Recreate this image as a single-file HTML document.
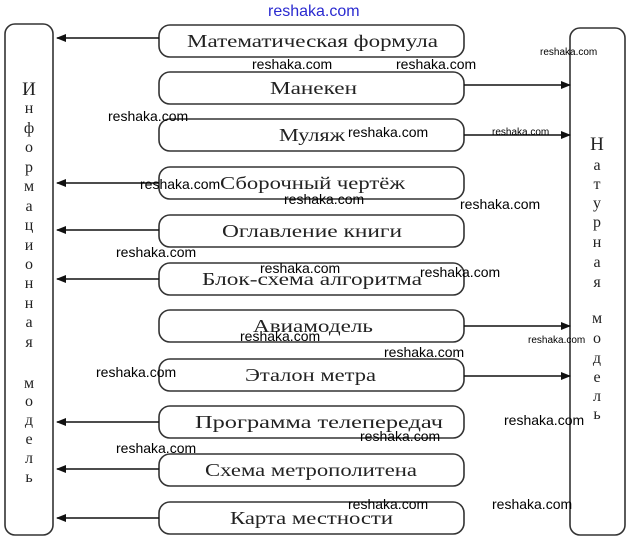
<!DOCTYPE html>
<html><head><meta charset="utf-8"><style>
html,body{margin:0;padding:0;background:#fff;}
svg{display:block;}
text{font-family:"Liberation Serif","DejaVu Serif",serif;fill:#222;}
.w{font-family:"Liberation Sans",sans-serif;fill:#000;font-size:14px;}
</style></head><body>
<svg width="628" height="539" viewBox="0 0 628 539" xmlns="http://www.w3.org/2000/svg">
<defs><marker id="a" markerWidth="10" markerHeight="8" refX="9" refY="4" orient="auto" markerUnits="userSpaceOnUse"><path d="M0,0 L10,4 L0,8 z" fill="#111"/></marker></defs>
<g fill="none" stroke="#333" stroke-width="1.6">
<rect x="5" y="24" width="48" height="511" rx="10"/>
<rect x="570" y="28" width="55" height="507" rx="10"/>
<rect x="159" y="25" width="305" height="32" rx="11"/>
<rect x="159" y="72" width="305" height="32" rx="11"/>
<rect x="159" y="119" width="305" height="32" rx="11"/>
<rect x="159" y="167" width="305" height="32" rx="11"/>
<rect x="159" y="215" width="305" height="32" rx="11"/>
<rect x="159" y="263" width="305" height="32" rx="11"/>
<rect x="159" y="310" width="305" height="32" rx="11"/>
<rect x="159" y="359" width="305" height="32" rx="11"/>
<rect x="159" y="406" width="305" height="32" rx="11"/>
<rect x="159" y="454" width="305" height="32" rx="11"/>
<rect x="159" y="502" width="305" height="32" rx="11"/>
</g>
<g stroke="#111" stroke-width="1.5" marker-end="url(#a)">
<line x1="159" y1="38" x2="57" y2="38"/>
<line x1="464" y1="85" x2="570" y2="85"/>
<line x1="464" y1="135" x2="570" y2="135"/>
<line x1="159" y1="183" x2="57" y2="183"/>
<line x1="159" y1="230" x2="57" y2="230"/>
<line x1="159" y1="279" x2="57" y2="279"/>
<line x1="464" y1="326" x2="570" y2="326"/>
<line x1="464" y1="376" x2="570" y2="376"/>
<line x1="159" y1="422" x2="57" y2="422"/>
<line x1="159" y1="469" x2="57" y2="469"/>
<line x1="159" y1="518" x2="57" y2="518"/>
</g>
<g font-size="18">
<text x="187" y="47" textLength="251" lengthAdjust="spacingAndGlyphs">Математическая формула</text>
<text x="270" y="94" textLength="87" lengthAdjust="spacingAndGlyphs">Манекен</text>
<text x="279" y="141" textLength="66" lengthAdjust="spacingAndGlyphs">Муляж</text>
<text x="220" y="189" textLength="185" lengthAdjust="spacingAndGlyphs">Сборочный чертёж</text>
<text x="222" y="237" textLength="180" lengthAdjust="spacingAndGlyphs">Оглавление книги</text>
<text x="202" y="285" textLength="220" lengthAdjust="spacingAndGlyphs">Блок-схема алгоритма</text>
<text x="253" y="332" textLength="120" lengthAdjust="spacingAndGlyphs">Авиамодель</text>
<text x="245" y="381" textLength="131" lengthAdjust="spacingAndGlyphs">Эталон метра</text>
<text x="195" y="428" textLength="248" lengthAdjust="spacingAndGlyphs">Программа телепередач</text>
<text x="205" y="476" textLength="212" lengthAdjust="spacingAndGlyphs">Схема метрополитена</text>
<text x="230" y="524" textLength="163" lengthAdjust="spacingAndGlyphs">Карта местности</text>
</g>
<g font-size="16" text-anchor="middle">
<text x="29" y="95" font-size="19">И</text>
<text x="29" y="113">н</text><text x="29" y="133">ф</text><text x="29" y="152">о</text>
<text x="29" y="172">р</text><text x="29" y="191">м</text><text x="29" y="211">а</text>
<text x="29" y="230">ц</text><text x="29" y="250">и</text><text x="29" y="269">о</text>
<text x="29" y="288">н</text><text x="29" y="308">н</text><text x="29" y="327">а</text>
<text x="29" y="347">я</text>
<text x="29" y="388">м</text><text x="29" y="406">о</text><text x="29" y="425">д</text>
<text x="29" y="444">е</text><text x="29" y="463">л</text><text x="29" y="482">ь</text>
</g>
<g font-size="16" text-anchor="middle">
<text x="597" y="150" font-size="19">Н</text>
<text x="597" y="170">а</text><text x="597" y="189">т</text><text x="597" y="208">у</text>
<text x="597" y="227">р</text><text x="597" y="247">н</text><text x="597" y="267">а</text>
<text x="597" y="287">я</text>
<text x="597" y="323">м</text><text x="597" y="343">о</text><text x="597" y="363">д</text>
<text x="597" y="382">е</text><text x="597" y="401">л</text><text x="597" y="419">ь</text>
</g>
<text class="w" x="268" y="16" style="fill:#2a2ad0;font-size:16px">reshaka.com</text>
<text class="w" x="540" y="55" style="font-size:10px">reshaka.com</text>
<text class="w" x="252" y="69">reshaka.com</text>
<text class="w" x="396" y="69">reshaka.com</text>
<text class="w" x="108" y="121">reshaka.com</text>
<text class="w" x="348" y="137">reshaka.com</text>
<text class="w" x="492" y="135" style="font-size:10px">reshaka.com</text>
<text class="w" x="140" y="189">reshaka.com</text>
<text class="w" x="284" y="204">reshaka.com</text>
<text class="w" x="460" y="209">reshaka.com</text>
<text class="w" x="116" y="257">reshaka.com</text>
<text class="w" x="260" y="273">reshaka.com</text>
<text class="w" x="420" y="277">reshaka.com</text>
<text class="w" x="240" y="341">reshaka.com</text>
<text class="w" x="528" y="343" style="font-size:10px">reshaka.com</text>
<text class="w" x="384" y="357">reshaka.com</text>
<text class="w" x="96" y="377">reshaka.com</text>
<text class="w" x="504" y="425">reshaka.com</text>
<text class="w" x="360" y="441">reshaka.com</text>
<text class="w" x="116" y="453">reshaka.com</text>
<text class="w" x="348" y="509">reshaka.com</text>
<text class="w" x="492" y="509">reshaka.com</text>
</svg>
</body></html>
